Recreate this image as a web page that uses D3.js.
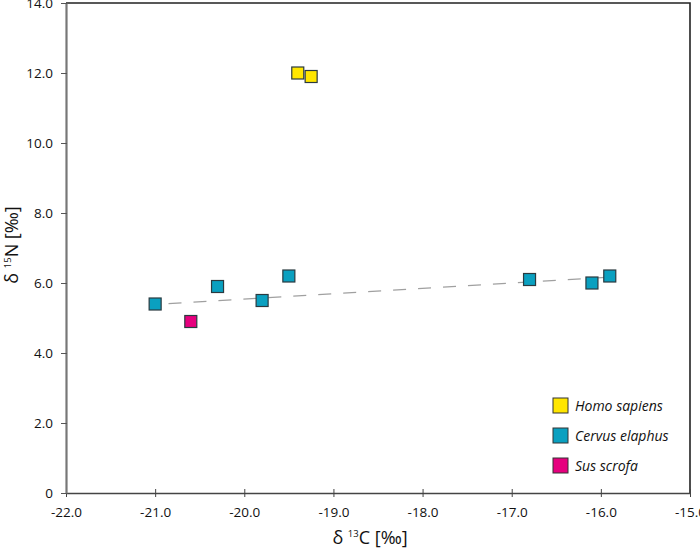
<!DOCTYPE html>
<html>
<head>
<meta charset="utf-8">
<script src="https://cdn.jsdelivr.net/npm/d3@7"></script>
<style>
  body { margin: 0; background: #fff; }
  svg { display: block; font-family: "Open Sans", sans-serif; }
</style>
</head>
<body>
<svg width="700" height="548"></svg>
<script>
// species groups, their colours and the measured isotope values
const species = ['Homo sapiens', 'Cervus elaphus', 'Sus scrofa'];
const colors = ['#ffe600', '#0aa0c0', '#e6007e'];

const homoC = [-19.4, -19.25];
const homoN = [12.0, 11.9];
const cervusC = [-21.0, -20.3, -19.8, -19.5, -16.8, -16.1, -15.9];
const cervusN = [5.4, 5.9, 5.5, 6.2, 6.1, 6.0, 6.2];
const susC = [-20.6];
const susN = [4.9];

// dashed trend line through the red deer values
const trendC = [-20.85, -15.9];
const trendN = [5.41, 6.17];

const xTicks = [-22, -21, -20, -19, -18, -17, -16, -15];
const yTicks = [0, 2, 4, 6, 8, 10, 12, 14];

const points = [
  ...homoC.map((c, i) => ({ c, n: homoN[i], s: 0 })),
  ...cervusC.map((c, i) => ({ c, n: cervusN[i], s: 1 })),
  ...susC.map((c, i) => ({ c, n: susN[i], s: 2 })),
];

// plot box: left 66, top 3, right 690, bottom 493
const margin = { top: 3, right: 10, bottom: 55, left: 66 };
const width = 700 - margin.left - margin.right;
const height = 548 - margin.top - margin.bottom;

const svg = d3.select('svg');
const chart = svg.append('g').attr('transform', `translate(${margin.left}, ${margin.top})`);

const x = d3.scaleLinear().domain([-22, -15]).range([0, width]);
const y = d3.scaleLinear().domain([0, 14]).range([height, 0]);

const fmt = d => d === 0 ? '0' : d.toFixed(1);

// top and right frame lines
chart.append('path')
  .attr('d', `M0,0H${width}V${height}`)
  .attr('fill', 'none')
  .attr('stroke', '#222')
  .attr('stroke-width', 1.6);

// bottom axis
const xAxis = chart.append('g')
  .attr('transform', `translate(0, ${height})`)
  .call(d3.axisBottom(x).tickValues(xTicks).tickFormat(fmt).tickSize(4).tickSizeOuter(0).tickPadding(10));
xAxis.select('.domain').attr('stroke', '#444').attr('stroke-width', 1.6);
xAxis.selectAll('.tick line').attr('y1', -4).attr('stroke', '#444');
xAxis.selectAll('.tick text')
  .attr('font-size', 13.5).attr('fill', '#111').attr('font-family', '"Open Sans", sans-serif');

// left axis
const yAxis = chart.append('g')
  .call(d3.axisLeft(y).tickValues(yTicks).tickFormat(fmt).tickSize(5).tickSizeOuter(0).tickPadding(8));
yAxis.select('.domain').attr('stroke', '#777').attr('stroke-width', 2.2);
yAxis.selectAll('.tick line').attr('x1', 1).attr('stroke', '#555');
yAxis.selectAll('.tick text')
  .attr('font-size', 13.5).attr('fill', '#111').attr('font-family', '"Open Sans", sans-serif');

// trend line
chart.append('path')
  .datum(trendC.map((c, i) => [c, trendN[i]]))
  .attr('d', d3.line().x(d => x(d[0])).y(d => y(d[1])))
  .attr('fill', 'none')
  .attr('stroke', '#a0a0a0')
  .attr('stroke-width', 1.2)
  .attr('stroke-dasharray', '13,12');

// markers
const size = 12;
chart.append('g').selectAll('rect')
  .data(points)
  .join('rect')
  .attr('x', d => x(d.c) - size / 2)
  .attr('y', d => y(d.n) - size / 2)
  .attr('width', size)
  .attr('height', size)
  .attr('fill', d => colors[d.s])
  .attr('stroke', '#2a3a40')
  .attr('stroke-width', 1.2);

// legend
const legend = svg.append('g').attr('transform', 'translate(553, 398)');
const item = legend.selectAll('g')
  .data(species)
  .join('g')
  .attr('transform', (d, i) => `translate(0, ${i * 30})`);
item.append('rect')
  .attr('width', 15).attr('height', 15)
  .attr('fill', (d, i) => colors[i])
  .attr('stroke', '#333').attr('stroke-width', 1);
item.append('text')
  .attr('x', 22).attr('y', 12.5)
  .attr('font-size', 14).attr('font-style', 'italic').attr('fill', '#111')
  .text(d => d);

// axis titles
const xTitle = svg.append('text')
  .attr('x', 370).attr('y', 544)
  .attr('text-anchor', 'middle')
  .attr('font-size', 18).attr('fill', '#111');
xTitle.append('tspan').text('δ ');
xTitle.append('tspan').attr('font-size', 9.5).attr('dy', -7).text('13');
xTitle.append('tspan').attr('dy', 7).text('C [‰]');

const yTitle = svg.append('text')
  .attr('transform', 'translate(18, 245) rotate(-90)')
  .attr('text-anchor', 'middle')
  .attr('font-size', 18).attr('fill', '#111');
yTitle.append('tspan').text('δ ');
yTitle.append('tspan').attr('font-size', 9.5).attr('dy', -7).text('15');
yTitle.append('tspan').attr('dy', 7).text('N [‰]');
</script>
</body>
</html>
